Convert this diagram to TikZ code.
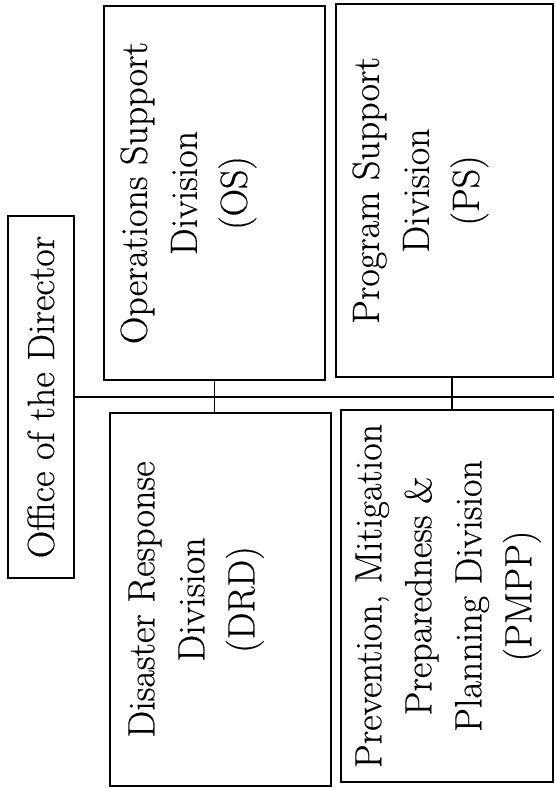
\documentclass[tikz,border=0pt]{standalone}
\usepackage{fontspec}
\setmainfont{Latin Modern Roman}[FakeBold=0.35]
\begin{document}
\begin{tikzpicture}[x=1pt, y=-1pt,
  unit/.style={draw, line width=1.7pt, inner sep=0pt},
  lbl/.style={rotate=90, align=center, inner sep=0pt,
              font=\fontsize{38}{50}\selectfont},
  link/.style={line width=1.3pt}]
\useasboundingbox (0,0) rectangle (554,789);

% boxes of the organisation (page is turned sideways)
\node[unit, minimum width=66pt,  minimum height=362pt] (office) at (41,397) {};
\node[unit, minimum width=221pt, minimum height=374pt] (os)     at (214.5,193) {};
\node[unit, minimum width=217pt, minimum height=373pt] (ps)     at (444.5,190.5) {};
\node[unit, minimum width=221pt, minimum height=373pt] (drd)    at (220.5,599.5) {};
\node[unit, minimum width=212pt, minimum height=372pt] (pmpp)   at (447,596) {};

% labels, read from bottom to top
\node[lbl] (officeText) at (office.center) {Office of the Director};
\node[lbl, anchor=north] (osText)   at ([xshift=17pt]os.west)   {Operations Support\\Division\\(OS)};
\node[lbl, anchor=north] (psText)   at ([xshift=17pt]ps.west)   {Program Support\\Division\\(PS)};
\node[lbl, anchor=north] (drdText)  at ([xshift=19pt]drd.west)  {Disaster Response\\Division\\(DRD)};
\node[lbl, anchor=north] (pmppText) at ([xshift=15pt]pmpp.west) {Prevention, Mitigation\\Preparedness \&\\Planning Division\\(PMPP)};

% connecting lines
\coordinate (trunkEnd) at (554,397);
\draw[link] (office.east) -- (trunkEnd);
\draw[link] (os.south) -- (os.south |- drd.north);
\draw[link] ([xshift=7.5pt]ps.south) -- ([xshift=7.5pt]ps.south |- pmpp.north);
\end{tikzpicture}
\end{document}
